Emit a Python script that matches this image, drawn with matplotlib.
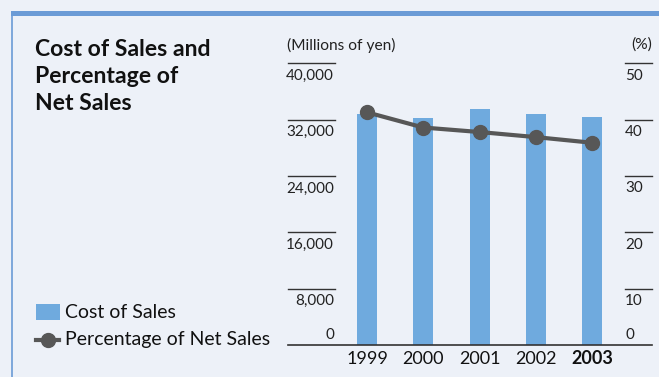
import matplotlib
matplotlib.use("Agg")
import matplotlib.pyplot as plt
from matplotlib.transforms import blended_transform_factory, ScaledTranslation
from matplotlib.patches import Rectangle
from matplotlib.lines import Line2D

years = ["1999", "2000", "2001", "2002", "2003"]
cost_of_sales = [32800, 32250, 33550, 32800, 32400]
pct_net_sales = [41.3, 38.6, 37.8, 36.9, 35.9]
left_ticks = [0, 8000, 16000, 24000, 32000, 40000]
left_labels = ["0", "8,000", "16,000", "24,000", "32,000", "40,000"]
right_ticks = [0, 10, 20, 30, 40, 50]
right_labels = ["0", "10", "20", "30", "40", "50"]

BG = "#edf1f8"
BAR = "#6faade"
LINE = "#575757"
BORDER = "#6b9bd6"
FONT = "Lato"

W, H = 659, 377
fig = plt.figure(figsize=(W / 100, H / 100), dpi=100)
fig.patch.set_facecolor(BG)

def fx(px):
    return px / W

def fy(py):
    return 1 - py / H

# frame border
fig.add_artist(Rectangle((fx(11), fy(16)), fx(W) - fx(11), 5 / H, transform=fig.transFigure,
                         facecolor=BORDER, edgecolor="none"))
fig.add_artist(Line2D([fx(11.7), fx(11.7)], [fy(16), 0], transform=fig.transFigure,
                      color=BORDER, lw=1.2))

# axes geometry
x_left, x_right = 288, 652
y_top, y_base = 63.3, 345
ax = fig.add_axes([fx(x_left), fy(y_base), fx(x_right) - fx(x_left), (y_base - y_top) / H])
ax.set_facecolor("none")
step = 56.25
ax.set_xlim(-(367 - x_left) / step, 4 + (x_right - 592) / step)
ax.set_ylim(0, 40000)
for s in ax.spines.values():
    s.set_visible(False)
ax.set_xticks([])
ax.set_yticks([])

xs = list(range(len(years)))
ax.bar(xs, cost_of_sales, width=20 / step, color=BAR, zorder=2)

ax2 = ax.twinx()
ax2.set_ylim(0, 50)
ax2.set_facecolor("none")
for s in ax2.spines.values():
    s.set_visible(False)
ax2.set_xticks([])
ax2.set_yticks([])
ax2.plot(xs, pct_net_sales, color=LINE, lw=3, marker="o", ms=10, zorder=3)

TICK_FS = 11
tl = blended_transform_factory(ax.transAxes, ax.transData)
tr = blended_transform_factory(ax2.transAxes, ax2.transData)
l_end = (335 - x_left) / (x_right - x_left)
r_start = (625 - x_left) / (x_right - x_left)
down = ScaledTranslation(0, -12.5 / 100, fig.dpi_scale_trans)
up = ScaledTranslation(0, 10 / 100, fig.dpi_scale_trans)
for v, lab in zip(left_ticks, left_labels):
    if v == 0:
        ax.text(l_end - 0.003, v, lab, transform=tl + up, ha="right", va="center",
                fontsize=TICK_FS, family=FONT, color="#222222")
    else:
        ax.plot([0, l_end], [v, v], transform=tl, color="#333333", lw=1, clip_on=False)
        ax.text(l_end - 0.003, v, lab, transform=tl + down, ha="right", va="center",
                fontsize=TICK_FS, family=FONT, color="#222222")
for v, lab in zip(right_ticks, right_labels):
    if v == 0:
        ax2.text(r_start, v, lab, transform=tr + up, ha="left", va="center",
                 fontsize=TICK_FS, family=FONT, color="#222222")
    else:
        ax2.plot([r_start, 1], [v, v], transform=tr, color="#333333", lw=1, clip_on=False)
        ax2.text(r_start, v, lab, transform=tr + down, ha="left", va="center",
                 fontsize=TICK_FS, family=FONT, color="#222222")

# baseline
ax.plot([0, 1], [0, 0], transform=tl, color="#333333", lw=1.2, clip_on=False, zorder=4)

# year labels
tyl = blended_transform_factory(ax.transData, fig.transFigure)
for i, y in enumerate(years):
    ax.text(i, fy(359), y, transform=tyl, ha="center", va="center", fontsize=13,
            family=FONT, color="#111111", fontweight="bold" if i == len(years) - 1 else "normal")

# unit labels
fig.text(fx(287), fy(45), "(Millions of yen)", ha="left", va="center", fontsize=11.2,
         family=FONT, color="#222222")
fig.text(fx(652), fy(45), "(%)", ha="right", va="center", fontsize=11.2,
         family=FONT, color="#222222")

# title
fig.text(fx(35), fy(38.5), "Cost of Sales and\nPercentage of\nNet Sales", ha="left", va="top",
         fontsize=16.6, fontweight="bold", family=FONT, color="#111111", linespacing=1.36)

# legend
fig.add_artist(Rectangle((fx(36), fy(320)), fx(60) - fx(36), 16 / H, transform=fig.transFigure,
                         facecolor=BAR, edgecolor="none"))
fig.text(fx(65), fy(312), "Cost of Sales", ha="left", va="center", fontsize=14,
         family=FONT, color="#111111")
fig.add_artist(Line2D([fx(36), fx(59)], [fy(339.5), fy(339.5)], transform=fig.transFigure,
                      color=LINE, lw=3, marker=None))
fig.add_artist(Line2D([fx(47.7)], [fy(339.5)], transform=fig.transFigure,
                      color=LINE, marker="o", ms=10, lw=0))
fig.text(fx(65), fy(340), "Percentage of Net Sales", ha="left", va="center", fontsize=14,
         family=FONT, color="#111111")

fig.savefig("out.png", dpi=100, facecolor=BG)
